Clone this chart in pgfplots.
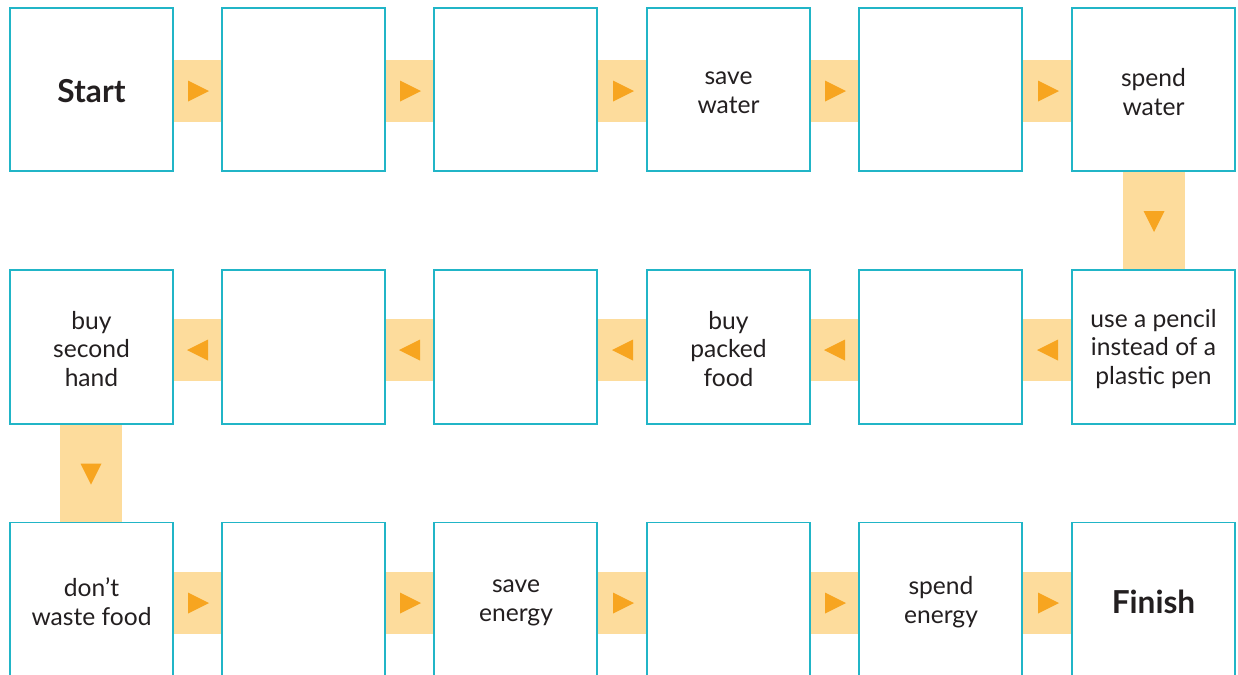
\documentclass[border=0pt]{standalone}
\usepackage{pgfplots}
\pgfplotsset{compat=1.18}
\usepackage{fontspec}
\setmainfont{Lato}
\definecolor{boxc}{HTML}{21B5C7}
\definecolor{connc}{HTML}{FDDC9C}
\definecolor{triac}{HTML}{F7A520}
\definecolor{txtc}{HTML}{231F20}
% box: x0 y0 y1
\newcommand\sq[3]{\addplot[draw=boxc, line width=0.55pt, fill=white] coordinates {(#1,#2) (#1+163,#2) (#1+163,#3) (#1,#3)} --cycle;}
% connector rectangle x0 x1 y0 y1
\newcommand\conn[4]{\addplot[draw=none, fill=connc] coordinates {(#1,#3) (#2,#3) (#2,#4) (#1,#4)} --cycle;}
\newcommand\tright[2]{\addplot[draw=none, fill=triac] coordinates {(#1-9.5,#2-10.5) (#1+11.5,#2) (#1-9.5,#2+10.5)} --cycle;}
\newcommand\tleft[2]{\addplot[draw=none, fill=triac] coordinates {(#1+10.5,#2-10.5) (#1-10.5,#2) (#1+10.5,#2+10.5)} --cycle;}
\newcommand\tdown[2]{\addplot[draw=none, fill=triac] coordinates {(#1-10.5,#2-9.5) (#1,#2+11.5) (#1+10.5,#2-9.5)} --cycle;}
\newcommand\lbl[3]{\node[align=center, text=txtc, font=\fontsize{7}{8.2}\selectfont, inner sep=0pt] at (axis cs:#1,#2) {#3};}
\begin{document}
\begin{tikzpicture}
\begin{axis}[
  scale only axis, width=12.38cm, height=6.74cm,
  xmin=0, xmax=1238, ymin=0, ymax=674, y dir=reverse,
  hide axis, clip=true]
% connectors row 1
\conn{173}{222}{60}{121.5}
\conn{385}{434}{60}{121.5}
\conn{598}{647}{60}{121.5}
\conn{810}{859}{60}{121.5}
\conn{1023}{1072}{60}{121.5}
% vertical 1
\conn{1123}{1185}{171}{270}
% row 2
\conn{173}{222}{319}{380.5}
\conn{385}{434}{319}{380.5}
\conn{598}{647}{319}{380.5}
\conn{810}{859}{319}{380.5}
\conn{1023}{1072}{319}{380.5}
% vertical 2
\conn{60}{122}{424}{522}
% row 3
\conn{173}{222}{572}{633.5}
\conn{385}{434}{572}{633.5}
\conn{598}{647}{572}{633.5}
\conn{810}{859}{572}{633.5}
\conn{1023}{1072}{572}{633.5}
% triangles
\tright{197.5}{91}\tright{409.5}{91}\tright{622.5}{91}\tright{834.5}{91}\tright{1047.5}{91}
\tdown{1154}{220.5}
\tleft{197.5}{350}\tleft{409.5}{350}\tleft{622.5}{350}\tleft{834.5}{350}\tleft{1047.5}{350}
\tdown{91}{473}
\tright{197.5}{603}\tright{409.5}{603}\tright{622.5}{603}\tright{834.5}{603}\tright{1047.5}{603}
% boxes
\sq{10}{8}{171}\sq{222}{8}{171}\sq{434}{8}{171}\sq{647}{8}{171}\sq{859}{8}{171}\sq{1072}{8}{171}
\sq{10}{270}{424}\sq{222}{270}{424}\sq{434}{270}{424}\sq{647}{270}{424}\sq{859}{270}{424}\sq{1072}{270}{424}
\sq{10}{522.5}{700}\sq{222}{522.5}{700}\sq{434}{522.5}{700}\sq{647}{522.5}{700}\sq{859}{522.5}{700}\sq{1072}{522.5}{700}
% labels
\node[text=txtc, font=\fontsize{9}{10}\selectfont\bfseries, inner sep=0pt] at (axis cs:91.5,91) {Start};
\lbl{728.5}{92.5}{save\\water}
\lbl{1153.5}{92}{spend\\water}
\lbl{91.5}{349}{buy\\second\\hand}
\lbl{728.5}{349}{buy\\packed\\food}
\lbl{1153.5}{349}{use a pencil\\instead of a\\plastic pen}
\lbl{91.5}{602}{don’t\\waste food}
\lbl{516}{602.5}{save\\energy}
\lbl{941}{602}{spend\\energy}
\node[text=txtc, font=\fontsize{9}{10}\selectfont\bfseries, inner sep=0pt] at (axis cs:1153.5,602) {Finish};
\end{axis}
\pgfresetboundingbox
\path (current axis.south west) rectangle (current axis.north east);
\end{tikzpicture}
\end{document}
